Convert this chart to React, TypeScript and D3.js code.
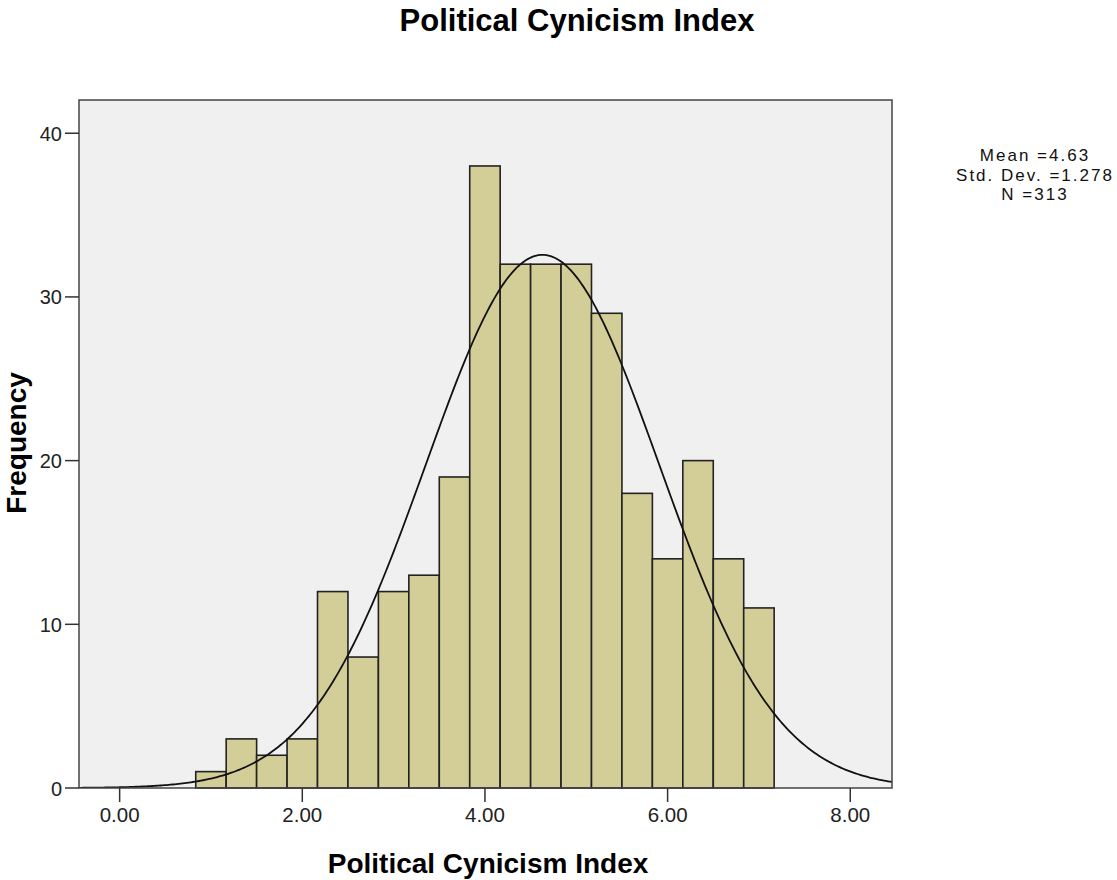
import React from "react";
import * as d3 from "d3";

const binStart = 0.8333;
const binWidth = 1 / 3;
const counts = [1, 3, 2, 3, 12, 8, 12, 13, 19, 38, 32, 32, 32, 29, 18, 14, 20, 14, 11];
const xTicks = [0, 2, 4, 6, 8];
const yTicks = [0, 10, 20, 30, 40];
const mean = 4.63;
const sd = 1.278;
const n = 313;
const statsLines = ["Mean =4.63", "Std. Dev. =1.278", "N =313"];

export default function App() {
  const W = 1117, H = 880;
  const left = 79, right = 892, top = 100, bottom = 788;
  const x = d3.scaleLinear().domain([-0.445, 8.457]).range([left, right]);
  const y = d3.scaleLinear().domain([0, 42.03]).range([bottom, top]);
  const curvePts = d3.range(0, 401).map((i) => {
    const v = -0.445 + (i / 400) * (8.457 + 0.445);
    const pdf = Math.exp(-0.5 * ((v - mean) / sd) ** 2) / (sd * Math.sqrt(2 * Math.PI));
    return [v, n * binWidth * pdf] as [number, number];
  });
  const line = d3.line<[number, number]>().x((d) => x(d[0])).y((d) => y(d[1]));
  const font = "Arial, 'Liberation Sans', sans-serif";
  return (
    <svg width={W} height={H} style={{ position: "absolute", left: 0, top: 0 }} fontFamily={font}>
      <rect x={0} y={0} width={W} height={H} fill="#fff" />
      <text x={577} y={31} textAnchor="middle" fontSize={31} fontWeight="bold" fill="#000">Political Cynicism Index</text>
      <rect x={left} y={top} width={right - left} height={bottom - top} fill="#f0f0f0" />
      <defs>
        <clipPath id="pc"><rect x={left} y={top} width={right - left} height={bottom - top} /></clipPath>
      </defs>
      {counts.map((c, i) => {
        const x0 = x(binStart + i * binWidth);
        const x1 = x(binStart + (i + 1) * binWidth);
        return <rect key={i} x={x0} y={y(c)} width={x1 - x0} height={y(0) - y(c)} fill="#d3ce97" stroke="#222" strokeWidth={1.6} />;
      })}
      <path d={line(curvePts) || ""} fill="none" stroke="#111" strokeWidth={1.8} clipPath="url(#pc)" />
      <rect x={left} y={top} width={right - left} height={bottom - top} fill="none" stroke="#444" strokeWidth={1.5} />
      {yTicks.map((t) => (
        <g key={t}>
          <line x1={left - 14} x2={left} y1={y(t)} y2={y(t)} stroke="#333" strokeWidth={1.5} />
          <text x={left - 17} y={y(t) + 7.5} textAnchor="end" fontSize={20} fill="#222">{t}</text>
        </g>
      ))}
      {xTicks.map((t) => (
        <g key={t}>
          <line x1={x(t)} x2={x(t)} y1={bottom} y2={bottom + 14} stroke="#333" strokeWidth={1.5} />
          <text x={x(t)} y={bottom + 34} textAnchor="middle" fontSize={20.5} fill="#222">{t.toFixed(2)}</text>
        </g>
      ))}
      <text x={488} y={873} textAnchor="middle" fontSize={28} fontWeight="bold" fill="#000">Political Cynicism Index</text>
      <text transform={`translate(26,443) rotate(-90)`} textAnchor="middle" fontSize={28} fontWeight="bold" fill="#000">Frequency</text>
      {statsLines.map((s, i) => (
        <text key={i} x={1035} y={161 + i * 19.5} textAnchor="middle" fontSize={17} letterSpacing={2} fill="#111">{s}</text>
      ))}
    </svg>
  );
}
